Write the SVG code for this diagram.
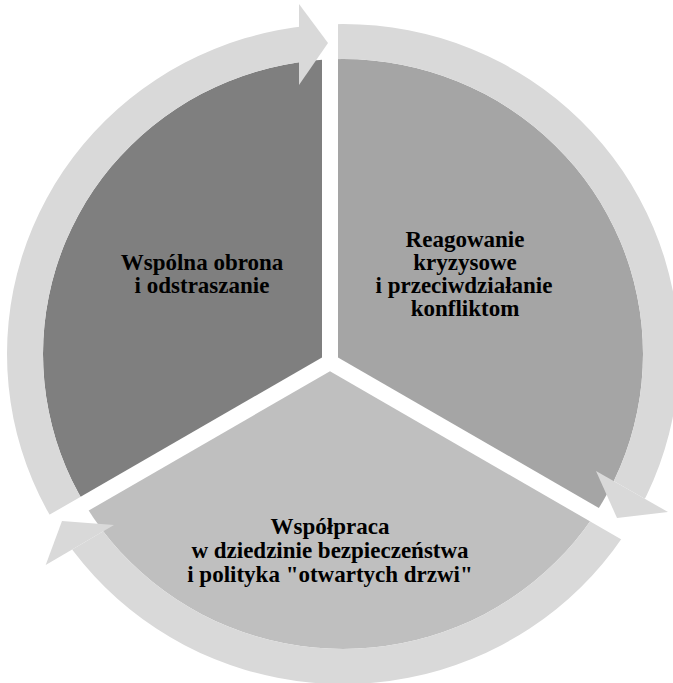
<svg xmlns="http://www.w3.org/2000/svg" width="673" height="683" viewBox="0 0 673 683">
  <defs>
    <style>
      .lbl { font-family: "Liberation Serif", "Times New Roman", serif; font-weight: bold; font-size: 23px; fill: #000; text-anchor: middle; }
      .ring { fill: #d9d9d9; }
    </style>
    <!-- inner disc of the cycle -->
    <clipPath id="disc">
      <ellipse cx="343" cy="354" rx="300" ry="295"/>
    </clipPath>
    <!-- band around the disc that carries the arrows -->
    <clipPath id="band">
      <path clip-rule="evenodd" d="M7,354 a336,330 0 1,0 672,0 a336,330 0 1,0 -672,0 Z M43,354 a300,295 0 1,0 600,0 a300,295 0 1,0 -600,0 Z"/>
    </clipPath>
  </defs>

  <rect width="673" height="683" fill="#fff"/>

  <g id="node-defence">
    <polygon clip-path="url(#disc)" fill="#7f7f7f" points="322,357.4 322,-300 -300,-300 -300,716.5"/>
    <text class="lbl" x="202" y="270">Wspólna obrona</text>
    <text class="lbl" x="202" y="293">i odstraszanie</text>
  </g>

  <g id="node-crisis">
    <polygon clip-path="url(#disc)" fill="#a5a5a5" points="338,357.4 338,-300 1000,-300 1000,739.6"/>
    <text class="lbl" x="465" y="247">Reagowanie</text>
    <text class="lbl" x="465" y="270">kryzysowe</text>
    <text class="lbl" x="464" y="293">i przeciwdziałanie</text>
    <text class="lbl" x="465" y="316">konfliktom</text>
  </g>

  <g id="node-cooperation">
    <polygon clip-path="url(#disc)" fill="#bfbfbf" points="330,371.2 1000,758.1 1000,1000 -300,1000 -300,735"/>
    <text class="lbl" x="330" y="534">Współpraca</text>
    <text class="lbl" x="330" y="558">w dziedzinie bezpieczeństwa</text>
    <text class="lbl" x="330" y="582">i polityka "otwartych drzwi"</text>
  </g>

  <g id="connectors">
    <!-- shafts, cut to the band -->
    <g clip-path="url(#band)">
      <polygon class="ring" points="322,357.4 -300,716.5 -300,-300 299,-300 299,357.4"/>
      <polygon class="ring" points="338,357.4 338,-300 1000,-300 1000,701 596,471"/>
      <polygon class="ring" points="330,371.2 1000,758.1 1000,1000 -300,1000 -300,767.3 114,525"/>
    </g>
    <!-- arrowheads -->
    <polygon class="ring" points="299,4 328,43 299,85"/>
    <polygon class="ring" points="596,471 617,518 668,512"/>
    <polygon class="ring" points="114,525 62,521 45.7,565"/>
  </g>
</svg>
